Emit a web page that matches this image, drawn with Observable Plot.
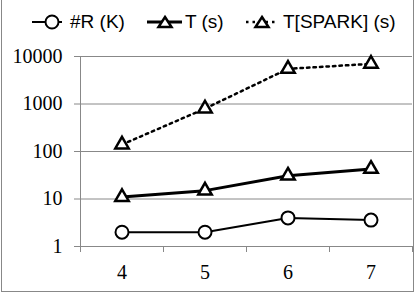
<!DOCTYPE html>
<html>
<head>
<meta charset="utf-8">
<script src="https://cdn.jsdelivr.net/npm/d3@7"></script>
<script src="https://cdn.jsdelivr.net/npm/@observablehq/plot@0.6"></script>
<style>
  html, body { margin: 0; padding: 0; background: #fff; }
  #wrap { position: relative; width: 416px; height: 293px; overflow: hidden; }
  #frame { position: absolute; left: 1px; top: -2px; width: 411px; height: 292px; border: 1px solid #888; pointer-events: none; }
  #legend { position: absolute; top: 10px; left: 0; width: 416px; height: 24px;
            font-family: "Liberation Sans", Arial, sans-serif; font-size: 19px; color: #000; }
  .item { position: absolute; top: 0; display: flex; align-items: center; height: 24px; white-space: nowrap; }
  #chart { position: absolute; left: 0; top: 0; }
  #chart svg, #chart svg g, #chart svg text { font-family: "Liberation Serif", "DejaVu Serif", serif !important; }
</style>
</head>
<body>
<div id="wrap">
  <div id="chart"></div>
  <div id="legend">
    <div class="item" style="left:32px">
      <svg width="32" height="24" style="margin-right:6px"><line x1="0" y1="12" x2="30" y2="12" stroke="#000" stroke-width="2"/><circle cx="20" cy="12" r="6.5" fill="#fff" stroke="#000" stroke-width="2"/></svg><span>#R (K)</span>
    </div>
    <div class="item" style="left:147px">
      <svg width="35" height="24" style="margin-right:3px"><line x1="0" y1="12" x2="35" y2="12" stroke="#000" stroke-width="3"/><path d="M18,7 L24.5,17 L11.5,17 Z" fill="#fff" stroke="#000" stroke-width="2.5"/></svg><span>T (s)</span>
    </div>
    <div class="item" style="left:245px">
      <svg width="32" height="24" style="margin-right:6px"><line x1="1" y1="12" x2="30" y2="12" stroke="#000" stroke-width="2.5" stroke-dasharray="2.5,4"/><path d="M17,7 L23.5,17 L10.5,17 Z" fill="#fff" stroke="#000" stroke-width="2.5"/></svg><span>T[SPARK] (s)</span>
    </div>
  </div>
  <div id="frame"></div>
</div>
<script>
const xs = [4, 5, 6, 7];
const rK = [2, 2, 4, 3.6];
const tS = [11, 15, 31, 43];
const tSpark = [140, 800, 5500, 7000];
const yTicks = [1, 10, 100, 1000, 10000];
const xBounds = [3.5, 4.5, 5.5, 6.5, 7.5];

const rows = (ys) => xs.map((x, i) => ({x, y: ys[i]}));
const dR = rows(rK), dT = rows(tS), dS = rows(tSpark);

const grey = "#888";
const serif = "Liberation Serif, DejaVu Serif, serif";
const chart = Plot.plot({
  width: 416,
  height: 293,
  marginTop: 56,
  marginBottom: 47,
  marginLeft: 80,
  marginRight: 4,
  style: {background: "transparent", overflow: "visible", fontFamily: serif},
  x: {type: "linear", domain: [3.5, 7.5], axis: null},
  y: {type: "log", domain: [1, 10000], axis: null},
  marks: [
    Plot.ruleY(yTicks, {stroke: grey, strokeWidth: 1, strokeOpacity: 1}),
    Plot.axisY({ticks: yTicks, tickSize: 6, tickPadding: 12, tickFormat: d => String(d), stroke: grey, strokeOpacity: 1,
      fontSize: 20, fontFamily: serif, color: "#000", label: null}),
    Plot.ruleX([3.5], {stroke: grey, strokeWidth: 1}),
    Plot.axisX({ticks: xBounds, tickSize: 6, tickFormat: () => "", stroke: grey, strokeOpacity: 1, label: null}),
    Plot.axisX({ticks: xs, tickSize: 0, tickPadding: 18, tickFormat: d => String(d), fontSize: 20, fontFamily: serif, label: null}),
    Plot.line(dS, {x: "x", y: "y", stroke: "#000", strokeWidth: 2.5, strokeDasharray: "2.5,4"}),
    Plot.line(dT, {x: "x", y: "y", stroke: "#000", strokeWidth: 3}),
    Plot.line(dR, {x: "x", y: "y", stroke: "#000", strokeWidth: 2}),
    Plot.dot(dS, {x: "x", y: "y", symbol: "triangle", r: 5, fill: "#fff", stroke: "#000", strokeWidth: 2.5}),
    Plot.dot(dT, {x: "x", y: "y", symbol: "triangle", r: 5, fill: "#fff", stroke: "#000", strokeWidth: 2.5}),
    Plot.dot(dR, {x: "x", y: "y", symbol: "circle", r: 6.5, fill: "#fff", stroke: "#000", strokeWidth: 2})
  ]
});
document.getElementById("chart").appendChild(chart);
</script>
</body>
</html>
